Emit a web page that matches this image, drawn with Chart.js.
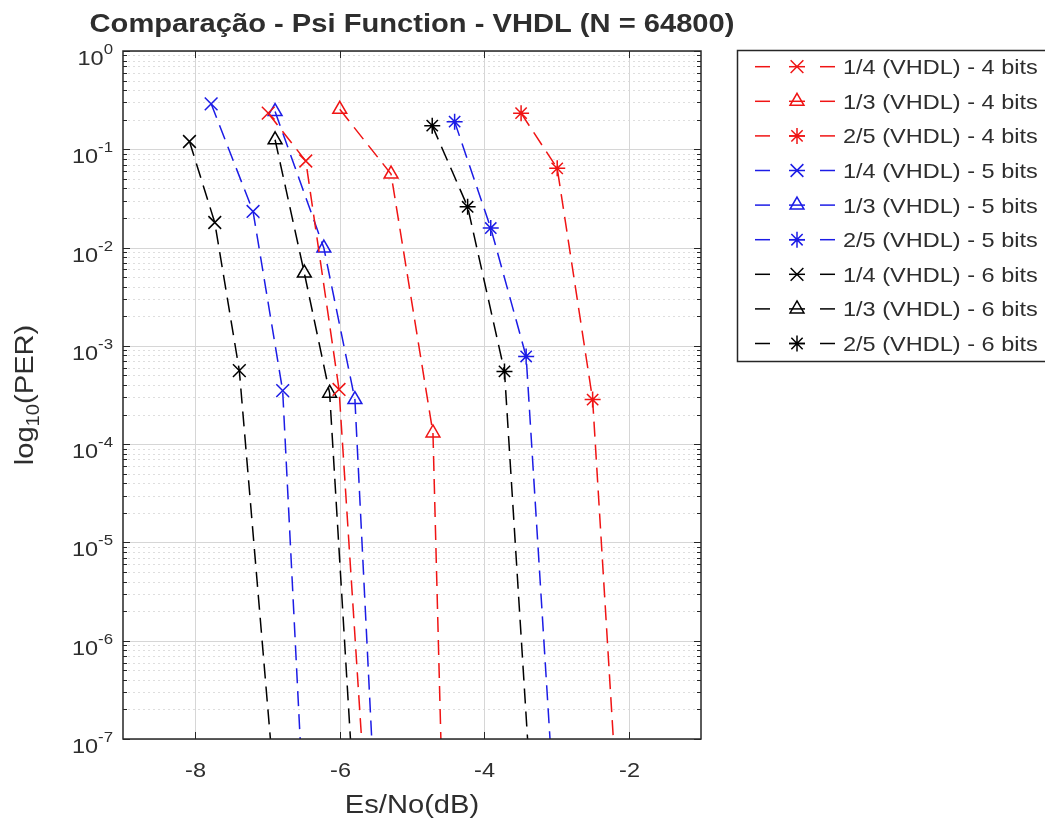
<!DOCTYPE html>
<html>
<head>
<meta charset="utf-8">
<script src="https://cdn.jsdelivr.net/npm/chart.js@4.4.1/dist/chart.umd.min.js"></script>
<style>
    html, body { margin: 0; padding: 0; background: #fff; }
    .contenedor { width: 1045px; height: 823px; }
</style>
</head>
<body>
<div class="contenedor"><canvas id="grafico" width="1045" height="823"></canvas></div>
<script>
// curvas de PER x Es/No, o ultimo ponto fica abaixo de 1e-7 (a curva sai pelo fundo)
const seriesLabels = [
    '1/4 (VHDL) - 4 bits', '1/3 (VHDL) - 4 bits', '2/5 (VHDL) - 4 bits',
    '1/4 (VHDL) - 5 bits', '1/3 (VHDL) - 5 bits', '2/5 (VHDL) - 5 bits',
    '1/4 (VHDL) - 6 bits', '1/3 (VHDL) - 6 bits', '2/5 (VHDL) - 6 bits'
];

const esNo_14_4 = [-6.99, -6.47, -6.01, -5.61];
const esNo_13_4 = [-6.00, -5.29, -4.71, -4.565];
const esNo_25_4 = [-3.49, -2.99, -2.50, -2.13];
const esNo_14_5 = [-7.78, -7.20, -6.79, -6.48];
const esNo_13_5 = [-6.895, -6.22, -5.79, -5.49];
const esNo_25_5 = [-4.41, -3.91, -3.42, -3.005];
const esNo_14_6 = [-8.08, -7.73, -7.39, -6.845];
const esNo_13_6 = [-6.895, -6.49, -6.14, -5.77];
const esNo_25_6 = [-4.72, -4.23, -3.72, -3.315];

const per_14_4 = [0.233, 0.076, 3.6e-4, 1e-8];
const per_13_4 = [0.255, 0.056, 1.3e-4, 1e-8];
const per_25_4 = [0.233, 0.064, 2.84e-4, 1e-8];
const per_14_5 = [0.29, 0.0233, 3.5e-4, 1e-8];
const per_13_5 = [0.242, 0.0099, 2.84e-4, 1e-8];
const per_25_5 = [0.191, 0.0158, 7.8e-4, 1e-8];
const per_14_6 = [0.12, 0.018, 5.6e-4, 1e-8];
const per_13_6 = [0.125, 0.0055, 3.3e-4, 1e-8];
const per_25_6 = [0.174, 0.026, 5.5e-4, 1e-8];

const xTicks = [-8, -6, -4, -2];
const yDecades = [0, -1, -2, -3, -4, -5, -6, -7];

const esNoList = [esNo_14_4, esNo_13_4, esNo_25_4, esNo_14_5, esNo_13_5, esNo_25_5, esNo_14_6, esNo_13_6, esNo_25_6];
const perList = [per_14_4, per_13_4, per_25_4, per_14_5, per_13_5, per_25_5, per_14_6, per_13_6, per_25_6];

const VERMELHO = '#f01414';
const AZUL = '#1c1ce6';
const PRETO = '#000000';
const seriesColors = [VERMELHO, VERMELHO, VERMELHO, AZUL, AZUL, AZUL, PRETO, PRETO, PRETO];
const seriesMarkers = ['crossRot', 'triangle', 'star', 'crossRot', 'triangle', 'star', 'crossRot', 'triangle', 'star'];
const markerRadius = { crossRot: 9, triangle: 8, star: 8 };

const FONTE = "'Liberation Sans', Arial, Helvetica, sans-serif";
const ESTICA = 1.12;
const COR_TEXTO = '#2e2e2e';

function larguraTexto(ctx, str, size, bold) {
    ctx.font = (bold ? 'bold ' : '') + size + 'px ' + FONTE;
    return ctx.measureText(str).width * ESTICA;
}

function escreve(ctx, str, x, y, size, align, bold) {
    ctx.save();
    const w = larguraTexto(ctx, str, size, bold);
    let x0 = x;
    if (align === 'center') x0 = x - w / 2;
    else if (align === 'right') x0 = x - w;
    ctx.translate(x0, y);
    ctx.scale(ESTICA, 1);
    ctx.textAlign = 'left';
    ctx.textBaseline = 'alphabetic';
    ctx.fillStyle = COR_TEXTO;
    ctx.fillText(str, 0, 0);
    ctx.restore();
    return w;
}

function linha(ctx, x1, y1, x2, y2) {
    ctx.beginPath();
    ctx.moveTo(x1, y1);
    ctx.lineTo(x2, y2);
    ctx.stroke();
}

function desenhaMarcador(ctx, estilo, x, y, r) {
    ctx.beginPath();
    if (estilo === 'triangle') {
        let rad = 0;
        ctx.moveTo(x + Math.sin(rad) * r, y - Math.cos(rad) * r);
        rad += 2 * Math.PI / 3;
        ctx.lineTo(x + Math.sin(rad) * r, y - Math.cos(rad) * r);
        rad += 2 * Math.PI / 3;
        ctx.lineTo(x + Math.sin(rad) * r, y - Math.cos(rad) * r);
        ctx.closePath();
    } else {
        const d = r * Math.SQRT1_2;
        ctx.moveTo(x - d, y - d); ctx.lineTo(x + d, y + d);
        ctx.moveTo(x + d, y - d); ctx.lineTo(x - d, y + d);
        if (estilo === 'star') {
            ctx.moveTo(x - r, y); ctx.lineTo(x + r, y);
            ctx.moveTo(x, y - r); ctx.lineTo(x, y + r);
        }
    }
    ctx.stroke();
}

const eixosMatlab = {
    id: 'eixosMatlab',
    beforeDatasetsDraw(chart) {
        const ctx = chart.ctx;
        const a = chart.chartArea;
        const xs = chart.scales.x, ys = chart.scales.y;
        ctx.save();
        ctx.lineWidth = 1;
        // grade menor (pontilhada)
        ctx.strokeStyle = '#dedede';
        ctx.setLineDash([2, 3]);
        for (let e = -7; e < 0; e++) {
            for (let m = 2; m <= 9; m++) {
                const y = Math.round(ys.getPixelForValue(m * Math.pow(10, e))) + 0.5;
                linha(ctx, a.left, y, a.right, y);
            }
        }
        ctx.setLineDash([]);
        ctx.strokeStyle = '#d6d6d6';
        yDecades.forEach(e => {
            const y = Math.round(ys.getPixelForValue(Math.pow(10, e))) + 0.5;
            linha(ctx, a.left, y, a.right, y);
        });
        xTicks.forEach(v => {
            const x = Math.round(xs.getPixelForValue(v)) + 0.5;
            linha(ctx, x, a.top, x, a.bottom);
        });
        ctx.restore();
    },
    afterDatasetsDraw(chart) {
        const ctx = chart.ctx;
        const a = chart.chartArea;
        const xs = chart.scales.x, ys = chart.scales.y;
        ctx.save();
        ctx.strokeStyle = '#262626';
        ctx.lineWidth = 1.5;
        ctx.strokeRect(a.left, a.top, a.right - a.left, a.bottom - a.top);

        ctx.lineWidth = 1;
        xTicks.forEach(v => {
            const x = Math.round(xs.getPixelForValue(v)) + 0.5;
            linha(ctx, x, a.bottom, x, a.bottom - 7);
            linha(ctx, x, a.top, x, a.top + 7);
            escreve(ctx, String(v), x, 777, 21, 'center');
        });
        for (let e = -7; e < 0; e++) {
            for (let m = 2; m <= 9; m++) {
                const y = Math.round(ys.getPixelForValue(m * Math.pow(10, e))) + 0.5;
                linha(ctx, a.left, y, a.left + 4, y);
                linha(ctx, a.right, y, a.right - 4, y);
            }
        }
        yDecades.forEach(e => {
            const y = Math.round(ys.getPixelForValue(Math.pow(10, e))) + 0.5;
            linha(ctx, a.left, y, a.left + 7, y);
            linha(ctx, a.right, y, a.right - 7, y);
            const expo = String(e);
            const wExp = larguraTexto(ctx, expo, 15);
            escreve(ctx, expo, 113, y + 2, 15, 'right');
            escreve(ctx, '10', 113 - wExp, y + 13, 21, 'right');
        });

        // titulo e rotulos dos eixos
        const cx = (a.left + a.right) / 2;
        escreve(ctx, 'Comparação - Psi Function - VHDL (N = 64800)', cx, 32, 26, 'center', true);
        escreve(ctx, 'Es/No(dB)', cx, 813, 26, 'center');

        ctx.save();
        ctx.translate(33, (a.top + a.bottom) / 2);
        ctx.rotate(-Math.PI / 2);
        const w1 = larguraTexto(ctx, 'log', 26);
        const w2 = larguraTexto(ctx, '10', 18);
        const w3 = larguraTexto(ctx, '(PER)', 26);
        let px = -(w1 + w2 + w3) / 2;
        px += escreve(ctx, 'log', px, 0, 26, 'left');
        px += escreve(ctx, '10', px, 6, 18, 'left');
        escreve(ctx, '(PER)', px, 0, 26, 'left');
        ctx.restore();

        // legenda
        ctx.fillStyle = '#ffffff';
        ctx.fillRect(737, 50, 320, 312);
        ctx.strokeStyle = '#262626';
        ctx.lineWidth = 1.5;
        ctx.strokeRect(737.5, 50.5, 320, 311);
        seriesLabels.forEach((txt, i) => {
            const y = 66.7 + i * 34.6;
            ctx.strokeStyle = seriesColors[i];
            ctx.lineWidth = 1.5;
            linha(ctx, 755, y, 770, y);
            linha(ctx, 789, y, 805, y);
            linha(ctx, 820, y, 835, y);
            desenhaMarcador(ctx, seriesMarkers[i], 797, y, markerRadius[seriesMarkers[i]]);
            escreve(ctx, txt, 843, y + 7.5, 21, 'left');
        });
        ctx.restore();
    }
};

const datasets = seriesLabels.map((label, i) => ({
    label: label,
    data: esNoList[i].map((x, k) => ({ x: x, y: perList[i][k] })),
    borderColor: seriesColors[i],
    borderWidth: 1.5,
    borderDash: [15, 8],
    pointStyle: seriesMarkers[i],
    pointRadius: markerRadius[seriesMarkers[i]],
    pointBorderColor: seriesColors[i],
    pointBackgroundColor: 'rgba(0,0,0,0)',
    pointBorderWidth: 1.5,
    fill: false,
    tension: 0
}));

new Chart(document.getElementById('grafico').getContext('2d'), {
    type: 'line',
    data: { datasets: datasets },
    options: {
        responsive: false,
        animation: false,
        events: [],
        layout: { padding: { left: 123, top: 51, right: 344, bottom: 84 } },
        plugins: {
            legend: { display: false },
            title: { display: false },
            tooltip: { enabled: false }
        },
        scales: {
            x: { type: 'linear', min: -9, max: -1, display: false },
            y: { type: 'logarithmic', min: 1e-7, max: 1, display: false }
        }
    },
    plugins: [eixosMatlab]
});
</script>
</body>
</html>
